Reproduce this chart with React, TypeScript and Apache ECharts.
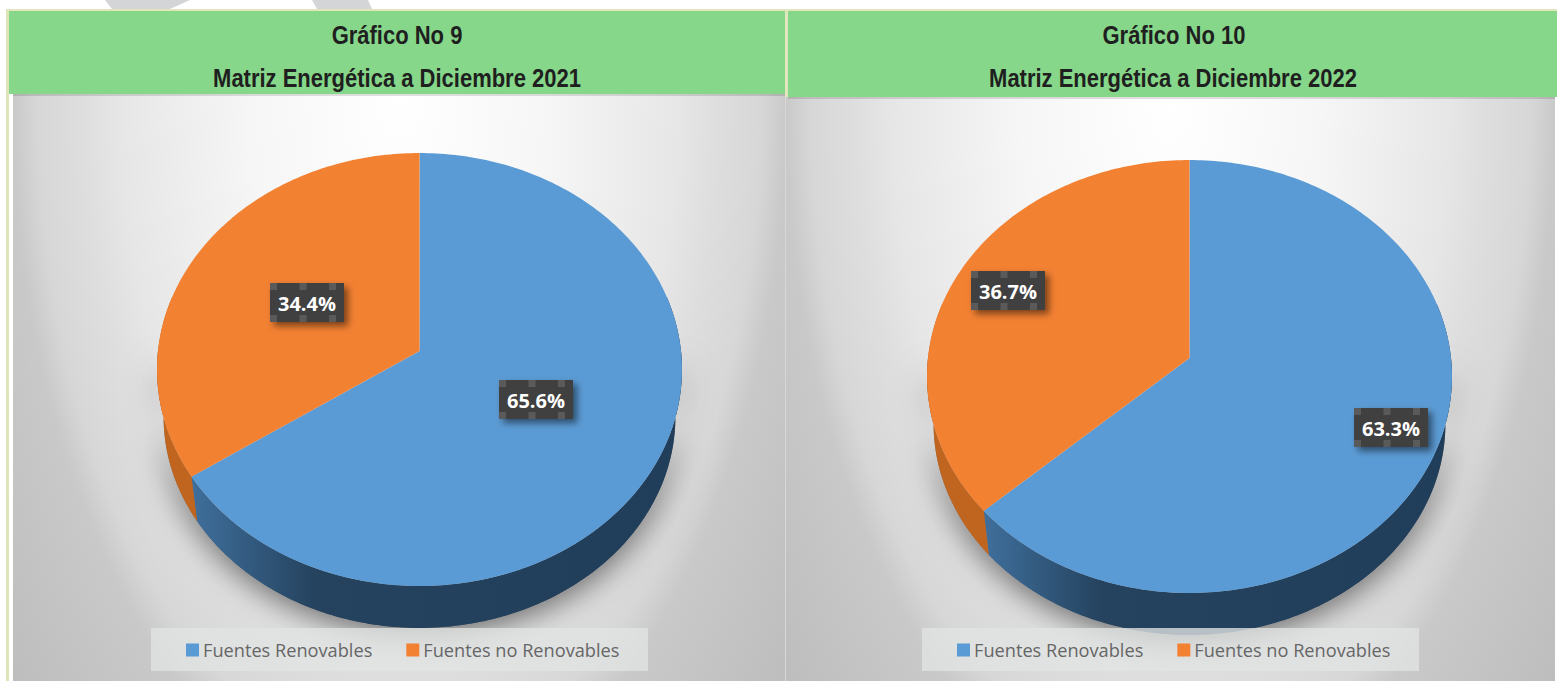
import React, { useEffect, useRef } from "react";
import * as echarts from "echarts";

const categories = ["Fuentes Renovables", "Fuentes no Renovables"];
const values2021 = [65.6, 34.4];
const values2022 = [63.3, 36.7];
const titles2021 = ["Gráfico No 9", "Matriz Energética a Diciembre 2021"];
const titles2022 = ["Gráfico No 10", "Matriz Energética a Diciembre 2022"];

const W = 1557, H = 681;
const TOP = ["#5b9bd5", "#f38132"];
const PERSP = 0.0855, A = 261.5, B = 214.9;
const S = 0.975, DROP = 47.9;

function arcPoints(cx: number, cy: number, from: number, to: number, scale = 1, drop = 0) {
  const pts: number[][] = [];
  const n = Math.max(2, Math.ceil(Math.abs(to - from) / 1));
  for (let i = 0; i <= n; i++) {
    const deg = from + ((to - from) * i) / n;
    const t = (deg * Math.PI) / 180;
    const u = Math.sin(t), v = -Math.cos(t);
    const d = 1 - PERSP * v;
    pts.push([cx + (scale * A * u) / d, cy + (scale * B * v) / d + drop]);
  }
  return pts;
}

function labelElement(text: string, x: number, y: number) {
  const w = 74, h = 39;
  const hs = [x, x + 29.5, x + 59];
  const handles: any[] = [];
  [y, y + h - 7].forEach((hy) =>
    hs.forEach((hx) =>
      handles.push({ type: "rect", shape: { x: hx, y: hy, width: 7, height: 7 }, style: { fill: "#5a5a5a" } })
    )
  );
  return [
    {
      type: "rect",
      shape: { x, y, width: w, height: h },
      style: { fill: "#404040", shadowBlur: 7, shadowColor: "rgba(0,0,0,0.5)", shadowOffsetX: 4, shadowOffsetY: 4 },
    },
    ...handles,
    {
      type: "text",
      style: {
        text,
        x: x + w / 2,
        y: y + h / 2 + 1,
        fill: "#ffffff",
        font: "bold 20px 'Open Sans'",
        textAlign: "center",
        textVerticalAlign: "middle",
      },
    },
  ];
}

function pieSeries(values: number[], cx: number, cy: number, labelPos: number[][]) {
  const total = values[0] + values[1];
  const split = (values[0] / total) * 360;
  const sideBlue = new echarts.graphic.LinearGradient(0, 0, 1, 0, [
    { offset: 0, color: "#3f6f9c" },
    { offset: 0.25, color: "#25435f" },
    { offset: 1, color: "#203d59" },
  ]);
  return categories.map((name, idx) => ({
    type: "custom",
    name,
    coordinateSystem: "none",
    itemStyle: { color: TOP[idx] },
    data: [values[idx]],
    silent: true,
    renderItem: () => {
      const from = idx === 0 ? 0 : split;
      const to = idx === 0 ? split : 360;
      const sideFrom = idx === 0 ? 75 : split;
      const sideTo = idx === 0 ? split : 285;
      const children: any[] = [];
      if (idx === 0) {
        const hullTop = arcPoints(cx, cy, 90, 270);
        const hullBottom = arcPoints(cx, cy, 270, 90, S, DROP);
        children.push({
          type: "polygon",
          shape: { points: [...hullTop, ...hullBottom] },
          style: { fill: "#777", shadowBlur: 30, shadowColor: "rgba(0,0,0,0.55)", shadowOffsetY: 6 },
        });
      }
      children.push({
        type: "polygon",
        shape: { points: [...arcPoints(cx, cy, sideFrom, sideTo), ...arcPoints(cx, cy, sideTo, sideFrom, S, DROP)] },
        style: { fill: idx === 0 ? sideBlue : "#bf651f" },
      });
      children.push({
        type: "polygon",
        shape: { points: [[cx, cy], ...arcPoints(cx, cy, from, to)] },
        style: { fill: TOP[idx] },
      });
      children.push(...labelElement(values[idx].toFixed(1) + "%", labelPos[idx][0], labelPos[idx][1]));
      return { type: "group", children };
    },
  }));
}

function panelFill() {
  return new echarts.graphic.RadialGradient(0.5, 0, 0.65, [
    { offset: 0, color: "#ffffff" },
    { offset: 0.3, color: "#f6f6f6" },
    { offset: 0.56, color: "#e6e6e6" },
    { offset: 0.63, color: "#dedede" },
    { offset: 0.72, color: "#d7d7d7" },
    { offset: 0.77, color: "#c9c9c9" },
    { offset: 1, color: "#bdbdbd" },
  ]);
}

function titleText(text: string, x: number, y: number) {
  return {
    type: "text",
    z: 2,
    x,
    y,
    scaleX: 0.83,
    style: {
      text,
      x: 0,
      y: 0,
      fill: "#1f1f1f",
      font: "bold 26.5px 'Liberation Sans'",
      textAlign: "center",
      textVerticalAlign: "middle",
    },
  };
}

export default function App() {
  const ref = useRef<HTMLDivElement>(null);
  useEffect(() => {
    document.body.style.margin = "0";
    const chart = echarts.init(ref.current!, undefined, { renderer: "svg" });
    const legendBase = {
      data: categories,
      top: 641,
      orient: "horizontal" as const,
      icon: "rect",
      itemWidth: 13,
      itemHeight: 13,
      itemGap: 34,
      padding: 0,
      selectedMode: false,
      textStyle: { fontFamily: "'Open Sans'", fontSize: 18.2, color: "#666666", padding: [0, 0, 0, -1] },
    };
    chart.setOption({
      animation: false,
      backgroundColor: "#ffffff",
      legend: [
        { ...legendBase, left: 186 },
        { ...legendBase, left: 957 },
      ],
      graphic: [
        { type: "polygon", z: 0, shape: { points: [[105, 0], [112, 9], [170, 9], [190, 0]] }, style: { fill: "#d4d5d7" } },
        { type: "polygon", z: 0, shape: { points: [[312, 0], [317, 9], [372, 9], [368, 0]] }, style: { fill: "#d4d5d7" } },
        { type: "rect", z: 0, shape: { x: 6, y: 9, width: W - 6, height: 2 }, style: { fill: "#e1e6bd" } },
        { type: "rect", z: 0, shape: { x: 6, y: 9, width: 3, height: H - 9 }, style: { fill: "#dde6b8" } },
        { type: "rect", z: 0, shape: { x: 13, y: 94, width: 773, height: 1430 }, style: { fill: panelFill() } },
        { type: "rect", z: 0, shape: { x: 786, y: 97, width: 769, height: 1430 }, style: { fill: panelFill() } },
        { type: "rect", z: 0, shape: { x: 785, y: 97, width: 1, height: H - 97 }, style: { fill: "#d8d8d8" } },
        { type: "rect", z: 0, shape: { x: 13, y: 94, width: 772, height: 2 }, style: { fill: "rgba(0,0,0,0.12)" } },
        { type: "rect", z: 0, shape: { x: 788, y: 97, width: 767, height: 2 }, style: { fill: "rgba(0,0,0,0.12)" } },
        { type: "rect", z: 1, shape: { x: 9, y: 11, width: 776, height: 83 }, style: { fill: "#86d78a" } },
        { type: "rect", z: 1, shape: { x: 788, y: 11, width: W - 788, height: 86 }, style: { fill: "#86d78a" } },
        { type: "rect", z: 1, shape: { x: 785, y: 11, width: 3, height: 86 }, style: { fill: "#e1e6bd" } },
        titleText(titles2021[0], 397, 35),
        titleText(titles2021[1], 397, 78),
        titleText(titles2022[0], 1174, 35),
        titleText(titles2022[1], 1173, 78),
        { type: "rect", z: 3, shape: { x: 151, y: 628, width: 497, height: 43 }, style: { fill: "rgba(226,228,228,0.78)" } },
        { type: "rect", z: 3, shape: { x: 922, y: 628, width: 497, height: 43 }, style: { fill: "rgba(226,228,228,0.78)" } },
      ],
      series: [
        ...pieSeries(values2021, 419.5, 351, [[499, 380], [270, 283]]),
        ...pieSeries(values2022, 1189.5, 358, [[1354, 408], [971, 271]]),
      ],
    });
    return () => chart.dispose();
  }, []);
  return <div ref={ref} style={{ width: W, height: H, display: "block" }} />;
}
